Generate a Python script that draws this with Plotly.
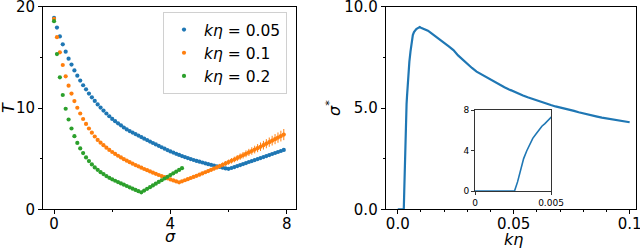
import plotly.graph_objects as go

# ---------------- data ----------------
sigma_blue = [0.0, 0.1, 0.2, 0.3, 0.4, 0.5, 0.6, 0.7, 0.8, 0.9,
              1.0, 1.1, 1.2, 1.3, 1.4, 1.5, 1.6, 1.7, 1.8, 1.9,
              2.0, 2.1, 2.2, 2.3, 2.4, 2.5, 2.6, 2.7, 2.8, 2.9,
              3.0, 3.1, 3.2, 3.3, 3.4, 3.5, 3.6, 3.7, 3.8, 3.9,
              4.0, 4.1, 4.2, 4.3, 4.4, 4.5, 4.6, 4.7, 4.8, 4.9,
              5.0, 5.1, 5.2, 5.3, 5.4, 5.5, 5.6, 5.7, 5.8, 5.9,
              6.0, 6.1, 6.2, 6.3, 6.4, 6.5, 6.6, 6.7, 6.8, 6.9,
              7.0, 7.1, 7.2, 7.3, 7.4, 7.5, 7.6, 7.7, 7.8, 7.9]
T_blue = [18.90, 17.95, 17.07, 16.29, 15.57, 14.88, 14.29, 13.72, 13.20, 12.71,
          12.25, 11.85, 11.43, 11.06, 10.70, 10.36, 10.05, 9.75, 9.46, 9.19,
          8.93, 8.70, 8.49, 8.29, 8.08, 7.89, 7.73, 7.58, 7.43, 7.28,
          7.13, 6.98, 6.84, 6.69, 6.55, 6.41, 6.27, 6.13, 5.99, 5.85,
          5.72, 5.60, 5.48, 5.37, 5.26, 5.16, 5.06, 4.96, 4.87, 4.78,
          4.70, 4.62, 4.54, 4.46, 4.39, 4.32, 4.25, 4.18, 4.11, 4.04,
          4.00, 4.08, 4.17, 4.27, 4.37, 4.47, 4.57, 4.67, 4.76, 4.86,
          4.96, 5.06, 5.16, 5.26, 5.36, 5.46, 5.56, 5.66, 5.76, 5.86]
err_blue = [0.06, 0.06, 0.06, 0.06, 0.06, 0.06, 0.06, 0.06, 0.06, 0.06,
            0.06, 0.06, 0.06, 0.06, 0.06, 0.06, 0.06, 0.06, 0.06, 0.06,
            0.06, 0.06, 0.06, 0.06, 0.06, 0.06, 0.06, 0.06, 0.06, 0.06,
            0.06, 0.06, 0.06, 0.06, 0.06, 0.06, 0.06, 0.06, 0.06, 0.06,
            0.06, 0.06, 0.06, 0.06, 0.06, 0.06, 0.06, 0.06, 0.06, 0.06,
            0.06, 0.06, 0.06, 0.06, 0.06, 0.06, 0.06, 0.06, 0.06, 0.07,
            0.07, 0.07, 0.08, 0.08, 0.08, 0.09, 0.09, 0.09, 0.10, 0.10,
            0.10, 0.11, 0.11, 0.12, 0.12, 0.12, 0.13, 0.13, 0.14, 0.14]

sigma_orange = [0.0, 0.1, 0.2, 0.3, 0.4, 0.5, 0.6, 0.7, 0.8, 0.9,
                1.0, 1.1, 1.2, 1.3, 1.4, 1.5, 1.6, 1.7, 1.8, 1.9,
                2.0, 2.1, 2.2, 2.3, 2.4, 2.5, 2.6, 2.7, 2.8, 2.9,
                3.0, 3.1, 3.2, 3.3, 3.4, 3.5, 3.6, 3.7, 3.8, 3.9,
                4.0, 4.1, 4.2, 4.3, 4.4, 4.5, 4.6, 4.7, 4.8, 4.9,
                5.0, 5.1, 5.2, 5.3, 5.4, 5.5, 5.6, 5.7, 5.8, 5.9,
                6.0, 6.1, 6.2, 6.3, 6.4, 6.5, 6.6, 6.7, 6.8, 6.9,
                7.0, 7.1, 7.2, 7.3, 7.4, 7.5, 7.6, 7.7, 7.8, 7.9]
T_orange = [18.80, 17.00, 15.50, 14.25, 13.13, 12.21, 11.43, 10.69, 10.03, 9.46,
            8.92, 8.43, 7.98, 7.57, 7.19, 6.85, 6.58, 6.33, 6.09, 5.86,
            5.66, 5.47, 5.29, 5.12, 4.95, 4.80, 4.65, 4.51, 4.37, 4.24,
            4.11, 3.98, 3.86, 3.74, 3.62, 3.50, 3.39, 3.28, 3.17, 3.06,
            2.95, 2.85, 2.75, 2.66, 2.76, 2.87, 2.98, 3.09, 3.20, 3.31,
            3.42, 3.54, 3.66, 3.78, 3.90, 4.02, 4.14, 4.27, 4.40, 4.53,
            4.66, 4.79, 4.92, 5.06, 5.20, 5.34, 5.48, 5.62, 5.76, 5.90,
            6.04, 6.18, 6.33, 6.48, 6.63, 6.78, 6.93, 7.08, 7.23, 7.38]
err_orange = [0.06, 0.06, 0.06, 0.06, 0.06, 0.06, 0.06, 0.06, 0.06, 0.06,
              0.06, 0.06, 0.06, 0.06, 0.06, 0.06, 0.06, 0.06, 0.06, 0.06,
              0.06, 0.06, 0.06, 0.06, 0.06, 0.06, 0.06, 0.06, 0.06, 0.06,
              0.06, 0.06, 0.06, 0.06, 0.06, 0.06, 0.06, 0.06, 0.06, 0.06,
              0.07, 0.07, 0.07, 0.08, 0.09, 0.10, 0.11, 0.12, 0.13, 0.14,
              0.15, 0.16, 0.17, 0.18, 0.19, 0.20, 0.21, 0.22, 0.23, 0.24,
              0.25, 0.27, 0.28, 0.30, 0.31, 0.32, 0.34, 0.35, 0.37, 0.38,
              0.40, 0.42, 0.43, 0.45, 0.46, 0.48, 0.50, 0.51, 0.53, 0.55]

sigma_green = [0.0, 0.1, 0.2, 0.3, 0.4, 0.5, 0.6, 0.7, 0.8, 0.9,
               1.0, 1.1, 1.2, 1.3, 1.4, 1.5, 1.6, 1.7, 1.8, 1.9,
               2.0, 2.1, 2.2, 2.3, 2.4, 2.5, 2.6, 2.7, 2.8, 2.9,
               3.0, 3.1, 3.2, 3.3, 3.4, 3.5, 3.6, 3.7, 3.8, 3.9,
               4.0, 4.1, 4.2, 4.3, 4.4]
T_green = [18.58, 15.33, 13.03, 11.29, 9.93, 8.87, 7.98, 7.22, 6.56, 6.01,
           5.55, 5.12, 4.76, 4.43, 4.14, 3.90, 3.67, 3.48, 3.28, 3.11,
           2.96, 2.82, 2.69, 2.56, 2.43, 2.30, 2.17, 2.04, 1.91, 1.79,
           1.68, 1.85, 2.02, 2.19, 2.36, 2.53, 2.70, 2.87, 3.04, 3.21,
           3.38, 3.55, 3.72, 3.89, 4.06]
err_green = [0.06, 0.06, 0.06, 0.06, 0.06, 0.06, 0.06, 0.06, 0.06, 0.06,
             0.06, 0.06, 0.06, 0.06, 0.06, 0.06, 0.06, 0.06, 0.06, 0.06,
             0.06, 0.06, 0.06, 0.06, 0.06, 0.06, 0.06, 0.06, 0.06, 0.06,
             0.06, 0.06, 0.06, 0.06, 0.06, 0.06, 0.06, 0.07, 0.07, 0.07,
             0.08, 0.08, 0.08, 0.09, 0.09]

series_names = ["<i>kη</i> = 0.05", "<i>kη</i> = 0.1", "<i>kη</i> = 0.2"]

keta = [0.0, 0.0005, 0.001, 0.0015, 0.002, 0.0026, 0.0028, 0.003, 0.0032, 0.0034,
        0.0036, 0.0038, 0.004, 0.0042, 0.0044, 0.0046, 0.0048, 0.005, 0.0055, 0.006,
        0.0065, 0.007, 0.0075, 0.008, 0.009, 0.0095, 0.010, 0.011, 0.012, 0.013,
        0.014, 0.015, 0.016, 0.017, 0.018, 0.019, 0.020, 0.022, 0.024, 0.026,
        0.028, 0.030, 0.032, 0.034, 0.036, 0.038, 0.040, 0.042, 0.044, 0.046,
        0.048, 0.050, 0.052, 0.054, 0.056, 0.058, 0.060, 0.062, 0.064, 0.066,
        0.068, 0.070, 0.072, 0.074, 0.076, 0.078, 0.080, 0.082, 0.084, 0.086,
        0.088, 0.090, 0.092, 0.094, 0.096, 0.098, 0.100]
sigma_star = [0.0, 0.0, 0.0, 0.0, 0.0, 0.0, 0.9, 2.0, 3.2, 3.95,
              4.55, 5.2, 5.6, 6.05, 6.4, 6.65, 6.95, 7.28, 7.8, 8.3,
              8.6, 8.75, 8.85, 8.9, 8.97, 9.0, 8.97, 8.93, 8.88, 8.82,
              8.74, 8.66, 8.58, 8.50, 8.42, 8.33, 8.22, 8.05, 7.86, 7.60,
              7.38, 7.15, 6.98, 6.80, 6.67, 6.53, 6.38, 6.25, 6.14, 6.03,
              5.92, 5.81, 5.71, 5.62, 5.53, 5.45, 5.36, 5.29, 5.22, 5.15,
              5.08, 5.03, 4.98, 4.92, 4.86, 4.79, 4.73, 4.68, 4.63, 4.58,
              4.53, 4.49, 4.45, 4.41, 4.37, 4.33, 4.30]

colors = ["#1f77b4", "#ff7f0e", "#2ca02c"]

W, H = 640, 248
def px(x):
    return x / W
def py(y):
    return 1 - y / H

FONT = "DejaVu Sans"
fig = go.Figure()

for xs, ys, es, name, c in [(sigma_blue, T_blue, err_blue, series_names[0], colors[0]),
                            (sigma_orange, T_orange, err_orange, series_names[1], colors[1]),
                            (sigma_green, T_green, err_green, series_names[2], colors[2])]:
    fig.add_trace(go.Scatter(
        x=xs, y=ys, mode="markers", name=name,
        marker=dict(color=c, size=4.2),
        error_y=dict(type="data", array=es, visible=True, color=c, thickness=1, width=0),
        xaxis="x", yaxis="y"))

fig.add_trace(go.Scatter(x=keta, y=sigma_star, mode="lines", showlegend=False,
                         line=dict(color="#1f77b4", width=2.2), xaxis="x2", yaxis="y2"))
fig.add_trace(go.Scatter(x=keta, y=sigma_star, mode="lines", showlegend=False,
                         line=dict(color="#1f77b4", width=1.6), xaxis="x3", yaxis="y3"))

axis_common = dict(showline=True, linecolor="black", linewidth=1, mirror=True,
                   showgrid=False, zeroline=False, ticks="outside", ticklen=4,
                   automargin=False, ticklabeloverflow="allow",
                   tickcolor="black", tickfont=dict(family=FONT, size=15, color="black"))

fig.update_layout(
    template="none",
    width=W, height=H, margin=dict(l=0, r=0, t=0, b=0, autoexpand=False),
    paper_bgcolor="white", plot_bgcolor="white",
    showlegend=True,
    legend=dict(x=px(163), y=py(12), xanchor="left", yanchor="top",
                bgcolor="white", bordercolor="#d0d0d0", borderwidth=1,
                font=dict(family=FONT, size=15.5, color="black"),
                itemwidth=30),
    xaxis=dict(domain=[px(43), px(296)], range=[-0.38, 8.32], anchor="y",
               tickvals=[0, 4, 8], ticktext=["0", "4", "8"], ticklabelstandoff=-3,
               minor=dict(dtick=2, tick0=0, ticks="outside", ticklen=2, tickcolor="black"),
               **axis_common),
    yaxis=dict(domain=[py(209.3), py(6.8)], range=[0, 20], anchor="x",
               tickvals=[0, 10, 20], ticktext=["0", "10", "20"],
               minor=dict(dtick=5, tick0=0, ticks="outside", ticklen=2, tickcolor="black"),
               **axis_common),
    xaxis2=dict(domain=[px(385.7), px(635.7)], range=[-0.0052, 0.1026], anchor="y2",
                tickvals=[0, 0.05, 0.1], ticktext=["0.0", "0.05", "0.1"], ticklabelstandoff=-3,
                minor=dict(dtick=0.01, tick0=0, ticks="outside", ticklen=2, tickcolor="black"),
                **axis_common),
    yaxis2=dict(domain=[py(209.3), py(6.8)], range=[0, 10], anchor="x2",
                tickvals=[0, 5, 10], ticktext=["0.0", "5.0", "10.0"],
                minor=dict(dtick=2.5, tick0=0, ticks="outside", ticklen=2, tickcolor="black"),
                **axis_common),
)

inset_common = dict(showline=True, linecolor="#333333", linewidth=1, mirror=True,
                    showgrid=False, zeroline=False, ticks="outside", ticklen=3,
                    automargin=False, ticklabeloverflow="allow",
                    tickcolor="#333333", tickfont=dict(family=FONT, size=9, color="black"))
fig.update_layout(
    xaxis3=dict(domain=[px(475), px(551)], range=[0, 0.005], anchor="y3",
                tickvals=[0, 0.005], ticktext=["0", "0.005"], **inset_common),
    yaxis3=dict(domain=[py(191), py(110)], range=[0, 8], anchor="x3",
                tickvals=[0, 4, 8], ticktext=["0", "4", "8"], **inset_common),
)

# axis titles
lab_font = dict(family=FONT, size=16, color="black")
for text, x, y, ang in [("<i>T</i>", 8, 108, -90),
                        ("<i>σ</i>", 170, 236, 0),
                        ("<i>σ</i><sup>*</sup>", 333, 108, -90),
                        ("<i>kη</i>", 513, 239, 0)]:
    fig.add_annotation(text=text, x=px(x), y=py(y), xref="paper", yref="paper",
                       xanchor="center", yanchor="middle",
                       showarrow=False, textangle=ang, font=lab_font)

fig.write_html("out.html",
               config={"displayModeBar": False, "staticPlot": True},
               post_script="document.body.style.margin='0';document.body.style.padding='0';"
                           "document.documentElement.style.overflow='hidden';")
